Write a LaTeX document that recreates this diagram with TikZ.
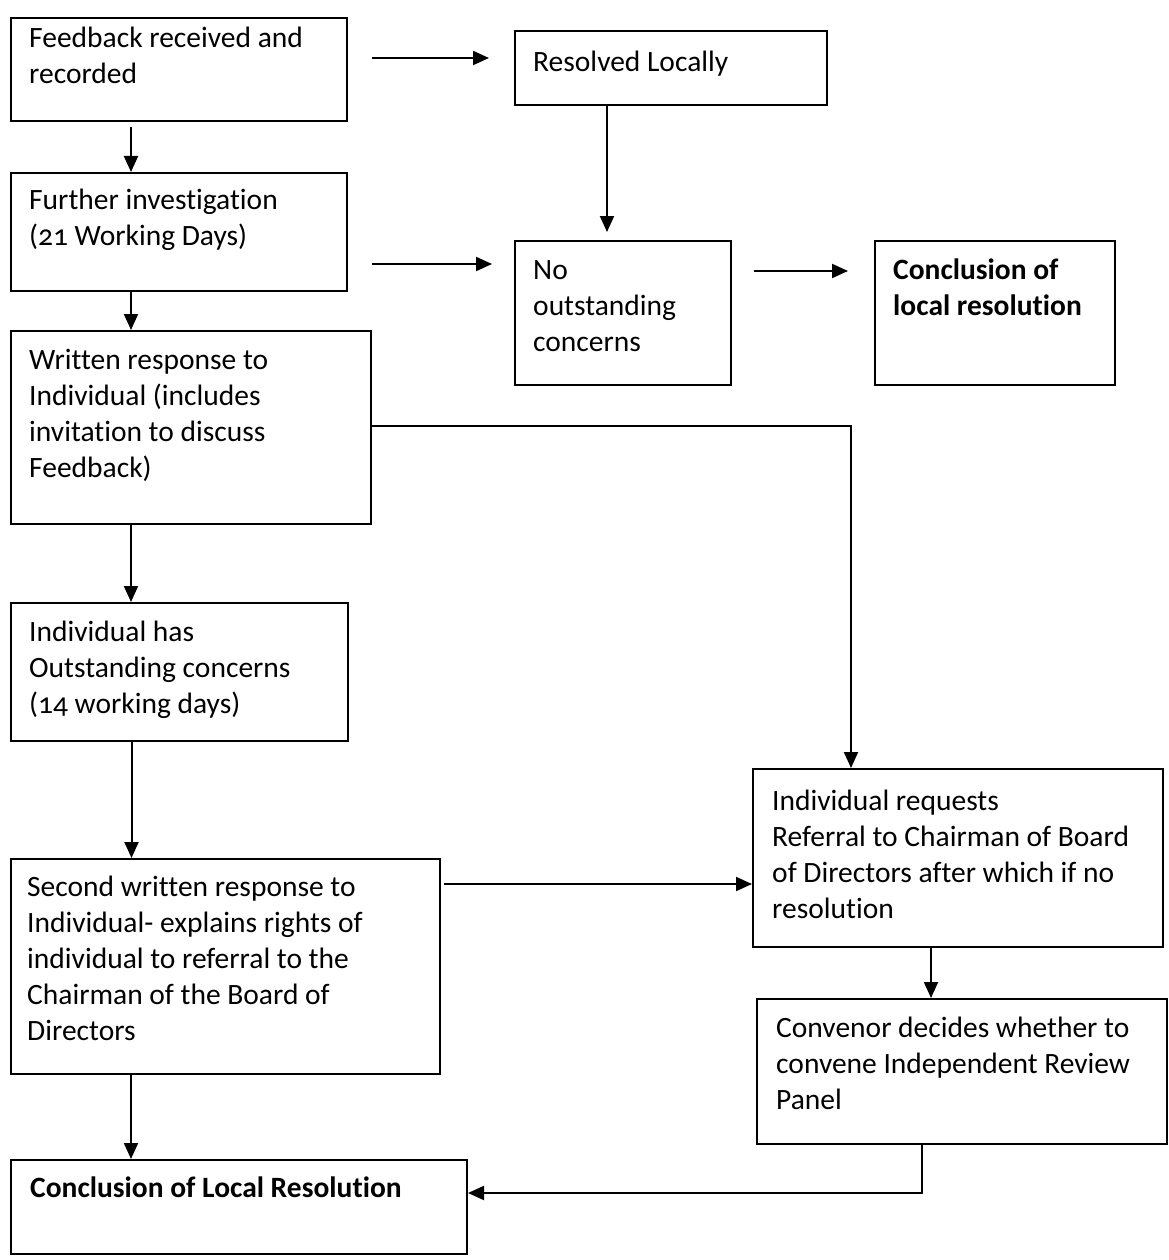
\documentclass[tikz,border=0pt]{standalone}
\usepackage{fontspec}
\setmainfont[Ligatures=CommonOff, Numbers=OldStyle]{Carlito}
\usetikzlibrary{arrows.meta,positioning}
\tikzset{
  stepbox/.style={draw, line width=2pt, anchor=north west, inner sep=0pt},
  boxtext/.style={anchor=north west, inner sep=0pt, align=left, font=\fontsize{29.5}{36}\selectfont},
  boldtext/.style={boxtext, font=\fontsize{29.5}{36}\selectfont\bfseries},
  flow/.style={line width=2pt, -{Triangle[length=16pt,width=14pt]}},
}

\begin{document}
\begin{tikzpicture}[x=1pt, y=1pt]
  \useasboundingbox (0,0) rectangle (1168,-1260);

  %%%%% BOXES %%%%%
  \node[stepbox, minimum width=336pt, minimum height=103pt] (fb) at (10,-17) {};
  \node[stepbox, minimum width=312pt, minimum height=74pt] (rl) at (514,-30) {};
  \node[stepbox, minimum width=336pt, minimum height=118pt] (fi) at (10,-172) {};
  \node[stepbox, minimum width=216pt, minimum height=144pt] (noc) at (514,-240) {};
  \node[stepbox, minimum width=240pt, minimum height=144pt] (clr) at (874,-240) {};
  \node[stepbox, minimum width=360pt, minimum height=193pt] (wr) at (10,-330) {};
  \node[stepbox, minimum width=337pt, minimum height=138pt] (ioc) at (10,-602) {};
  \node[stepbox, minimum width=410pt, minimum height=178pt] (irr) at (752,-768) {};
  \node[stepbox, minimum width=429pt, minimum height=215pt] (swr) at (10,-858) {};
  \node[stepbox, minimum width=410pt, minimum height=145pt] (cv) at (756,-998) {};
  \node[stepbox, minimum width=456pt, minimum height=94pt] (clrb) at (10,-1159) {};

  %%%%% TEXTS %%%%%
  \node[boxtext, below right=4.8pt and 19pt of fb.north west] (fbt) {\strut Feedback received and\\recorded};
  \node[boxtext, below right=15.8pt and 19pt of rl.north west] (rlt) {\strut Resolved Locally};
  \node[boxtext, below right=11.8pt and 19pt of fi.north west] (fit) {\strut Further investigation\\(21 Working Days)};
  \node[boxtext, below right=13.8pt and 19pt of noc.north west] (noct) {\strut No\\outstanding\\concerns};
  \node[boldtext, below right=13.8pt and 19pt of clr.north west] (clrt) {\strut Conclusion of\\local resolution};
  \node[boxtext, below right=13.8pt and 19pt of wr.north west] (wrt) {\strut Written response to\\Individual (includes\\invitation to discuss\\Feedback)};
  \node[boxtext, below right=13.8pt and 19pt of ioc.north west] (ioct) {\strut Individual has\\Outstanding concerns\\(14 working days)};
  \node[boxtext, below right=16.8pt and 20pt of irr.north west] (irrt) {\strut Individual requests\\Referral to Chairman of Board\\of Directors after which if no\\resolution};
  \node[boxtext, below right=12.8pt and 17pt of swr.north west] (swrt) {\strut Second written response to\\Individual- explains rights of\\individual to referral to the\\Chairman of the Board of\\Directors};
  \node[boxtext, below right=13.8pt and 20pt of cv.north west] (cvt) {\strut Convenor decides whether to\\convene Independent Review\\Panel};
  \node[boldtext, below right=12.8pt and 20pt of clrb.north west] (clrbt) {\strut Conclusion of Local Resolution};

  %%%%% ARROWS %%%%%
  \draw[flow] ([shift={(24,11.5)}]fb.east) -- ([shift={(-25,10)}]rl.west);
  \draw[flow] ([shift={(-48,-5)}]fb.south) -- ([xshift=-48]fb.south |- fi.north);
  \draw[flow] ([xshift=-64]rl.south) -- ([shift={(-16,8)}]noc.north);
  \draw[flow] ([shift={(24,-32)}]fi.east) -- ([shift={(-22,49)}]noc.west);
  \draw[flow] ([shift={(22,42)}]noc.east) -- ([shift={(-26,42)}]clr.west);
  \draw[flow] ([xshift=-48]fi.south) -- ([xshift=-48]fi.south |- wr.north);
  \draw[flow] ([yshift=2]wr.east) -| ([xshift=-107]irr.north);
  \draw[flow] ([xshift=-60]wr.south) -- ([xshift=-60]wr.south |- ioc.north);
  \draw[flow] ([xshift=-48]ioc.south) -- ([xshift=-48]ioc.south |- swr.north);
  \draw[flow] ([shift={(3,82.5)}]swr.east) -- ([yshift=-26]irr.west);
  \draw[flow] ([xshift=-27]irr.south) -- ([xshift=-27]irr.south |- cv.north);
  \draw[flow] ([xshift=-94.5]swr.south) -- ([xshift=-94.5]swr.south |- clrb.north);
  \draw[flow] ([xshift=-40]cv.south) |- ([yshift=14]clrb.east);
\end{tikzpicture}
\end{document}
